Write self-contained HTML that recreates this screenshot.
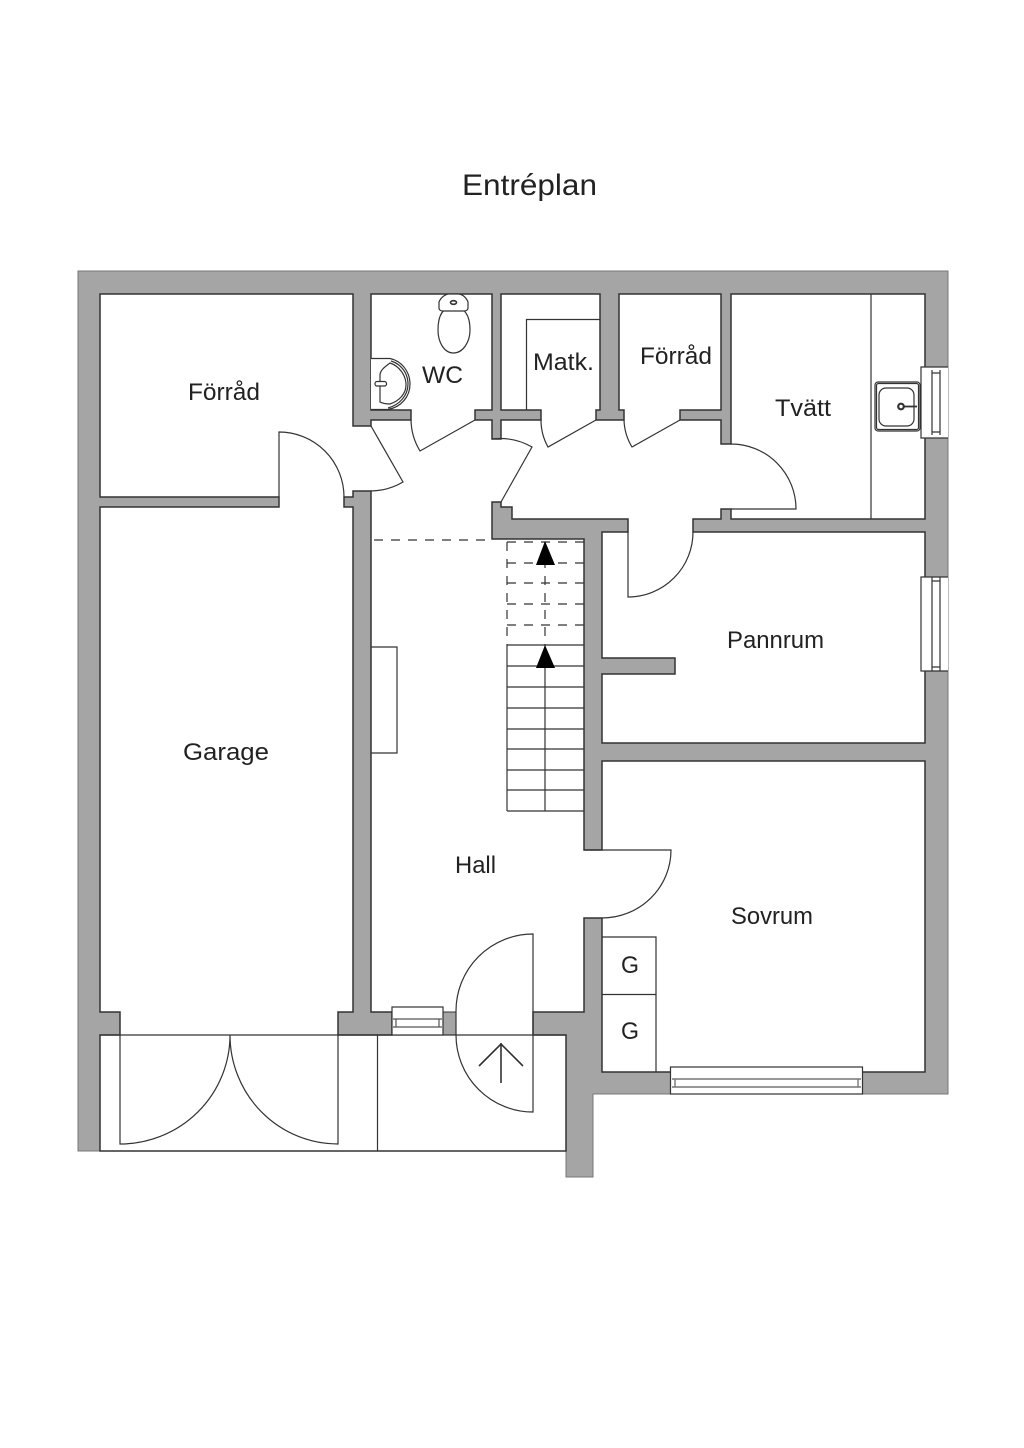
<!DOCTYPE html>
<html><head><meta charset="utf-8"><style>
html,body{margin:0;padding:0;background:#fff}
svg{display:block}
text{font-family:"Liberation Sans",sans-serif;font-size:24px;fill:#222}
</style></head><body>
<svg width="1024" height="1448" viewBox="0 0 1024 1448" xmlns="http://www.w3.org/2000/svg">
<rect width="1024" height="1448" fill="#fff"/>
<!-- walls -->
<path d="M78,271H948V1094H593V1177H566V1151H78Z" fill="#a5a5a5" stroke="#777" stroke-width="1"/>
<path fill="#fff" stroke="#333" stroke-width="1.5" d="M100,294H353V426H371V420H411V410H371V294H492V410H475V420H492V439H501V420H541V410H501V294H600V410H596V420H624V410H619V294H721V410H680V420H721V444H731V294H925V519H731V509H721V519H693V532H925V743H602V674H675V658H602V532H628V519H512V507H501V502H492V539H584V850H602V761H925V1072H602V918H584V1012H533V1035H566V1151H100V1035H120V1012H100V507H279V497H100Z"/>
<path fill="#a5a5a5" stroke="#333" stroke-width="1.5" d="M344,497H353V491H371V1012H392V1035H338V1012H353V507H344Z"/>
<rect x="443" y="1012" width="13" height="23" fill="#a5a5a5" stroke="#333" stroke-width="1"/>
<g fill="none" stroke="#333" stroke-width="1.2">
<!-- veranda -->
<path d="M100,1035H566M377.5,1035V1151"/>
<!-- doors -->
<path d="M279,497V432A65,65 0 0 1 344,497"/>
<path d="M371,426L403,482A65,65 0 0 1 371,491"/>
<path d="M475,420L420,451A62,62 0 0 1 411,420"/>
<path d="M596,420L548,447A55,55 0 0 1 541,420"/>
<path d="M680,420L632,447A55,55 0 0 1 624,420"/>
<path d="M501,502L532,447A65,65 0 0 0 492,439"/>
<path d="M731,509H796A65,65 0 0 0 731,444"/>
<path d="M628,532V597A65,65 0 0 0 693,532"/>
<path d="M584,850H671A69,68 0 0 1 602,918"/>
<path d="M533,934V1112A77,77 0 0 1 456,1035V1011A77,77 0 0 1 533,934Z"/>
<path d="M120,1035V1144A110,109 0 0 0 230,1035A108,109 0 0 0 338,1144V1035"/>
<!-- stairs solid -->
<path d="M507,645H584M507,666H584M507,687H584M507,708H584M507,729H584M507,749H584M507,770H584M507,790H584M507,811H584M507,645V811M545,645V811"/>
<!-- stairs dashed -->
<path stroke-dasharray="9 8" d="M374,540H492M507,542H584M507,563H584M507,583H584M507,604H584M507,625H584M507,542V645M545,542V645"/>
<!-- fixtures -->
<path d="M371,647H397V753H371"/>
<path d="M526.5,410V319.5H600"/>
<path d="M871,294V519"/>
<path d="M602,937H656V1072M602,994.5H656"/>
<!-- arrow in entrance -->
<path stroke-width="1.6" d="M501,1083V1043M479,1066L501,1044L523,1066"/>
<!-- toilet -->
<path d="M438,330C438,312 445,307 453.500,307C462,307 470,312 470,330C470,342 463,353 453.500,353C444,353 438,342 438,330Z" fill="#fff"/>
<path d="M439,308V302C441,297 446,294 449,294H458C462,294 466,297 468,302V308C468,310 466,311 464,311H443C441,311 439,310 439,308Z" fill="#fff"/>
<ellipse cx="453.500" cy="302.500" rx="3" ry="1.800" stroke-width="1.600"/>
<!-- WC basin -->
<path d="M371,358.500H390C402,361 410,372 410,384C410,397 401,407 388,409.500H371" fill="#fff"/>
<path d="M388,408C399,405 408,396 408,384C408,373 401,364 391,361"/>
<path d="M380,402V375C380,370 386,366 390,363C399,366 406,375 406,385C406,394 399,401 390,404C386,404 382,403 380,402Z"/>
<rect x="375" y="381.500" width="11.500" height="4.500" rx="2" fill="#fff"/>
<!-- laundry sink -->
<rect x="875" y="382" width="45" height="49" rx="3"/>
<rect x="876.500" y="383.500" width="42" height="46" rx="2"/>
<rect x="879" y="388" width="35" height="38" rx="7"/>
<circle cx="901" cy="406.500" r="2.800" stroke-width="2.200"/>
<path d="M904,406.500H917" stroke-width="1.800"/>
</g>
<!-- windows -->
<g fill="#fff" stroke="#333" stroke-width="1.2">
<path d="M948,367H921V438H948Z" stroke="none"/>
<path d="M948,367H921V438H948" fill="none"/>
<path d="M932,370V435M940,370V435M932,373H940M932,432H940" fill="none"/>
<path d="M948,577H921V671H948Z" stroke="none"/>
<path d="M948,577H921V671H948" fill="none"/>
<path d="M932,577V671M940,577V671M932,581H940M932,667H940" fill="none"/>
<rect x="670.500" y="1067" width="192" height="27"/>
<path d="M672,1079H861M672,1087H861M675,1079V1087M858,1079V1087" fill="none" stroke="#777" stroke-width="1.400"/>
<rect x="392" y="1007" width="51" height="28"/>
<path d="M393,1019H442M393,1027H442M396,1019V1027M439,1019V1027" fill="none" stroke="#555"/>
</g>
<!-- stair arrowheads -->
<path d="M545,541L555,565H536Z M545,645L555,668H536Z" fill="#000"/>
<!-- labels -->
<text x="462" y="195" style="font-size:30px" textLength="135" lengthAdjust="spacingAndGlyphs">Entréplan</text>
<text x="188" y="400" textLength="72" lengthAdjust="spacingAndGlyphs">Förråd</text>
<text x="422" y="383" textLength="41" lengthAdjust="spacingAndGlyphs">WC</text>
<text x="533" y="370" textLength="61" lengthAdjust="spacingAndGlyphs">Matk.</text>
<text x="640" y="364" textLength="72" lengthAdjust="spacingAndGlyphs">Förråd</text>
<text x="775" y="416" textLength="56" lengthAdjust="spacingAndGlyphs">Tvätt</text>
<text x="727" y="648" textLength="97" lengthAdjust="spacingAndGlyphs">Pannrum</text>
<text x="183" y="760" textLength="86" lengthAdjust="spacingAndGlyphs">Garage</text>
<text x="455" y="873" textLength="41" lengthAdjust="spacingAndGlyphs">Hall</text>
<text x="731" y="924" textLength="82" lengthAdjust="spacingAndGlyphs">Sovrum</text>
<text x="621" y="973" textLength="18" lengthAdjust="spacingAndGlyphs">G</text>
<text x="621" y="1039" textLength="18" lengthAdjust="spacingAndGlyphs">G</text>
</svg>
</body></html>
